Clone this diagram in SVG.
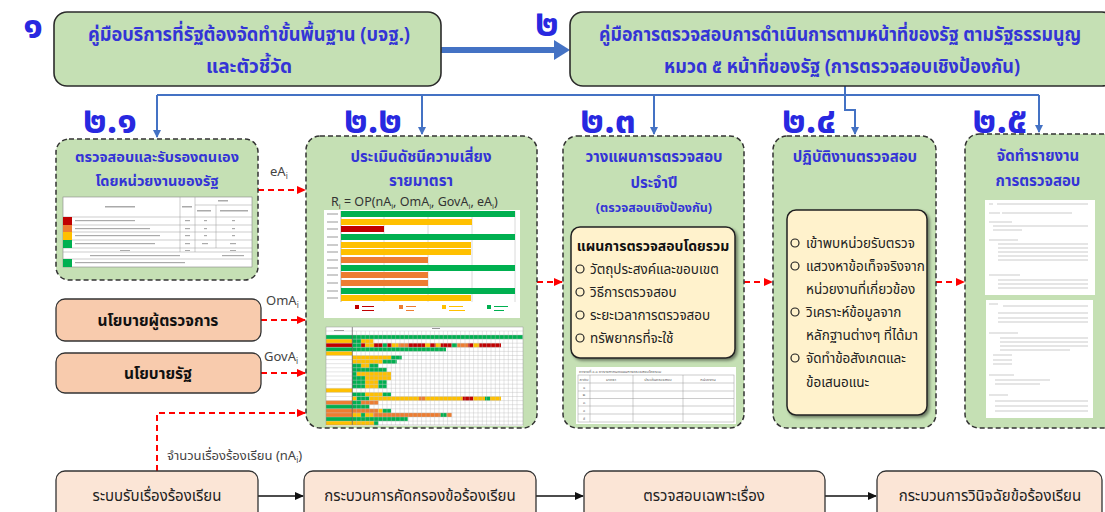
<svg xmlns="http://www.w3.org/2000/svg" width="1105" height="512" viewBox="0 0 1105 512">
<style>
text{font-family:'Noto Sans Thai','Noto Sans Thai UI','Noto Sans','DejaVu Sans',sans-serif;}
.blue{fill:#3434D6;font-weight:bold;text-anchor:middle;}
.num{fill:#2828E0;font-weight:bold;font-size:37px;}
.topbox{fill:#C5E0B4;stroke:#2b2b2b;stroke-width:1.6;}
.sec{fill:#C5E0B4;stroke:#333;stroke-width:1.5;stroke-dasharray:5 3;}
.pol{fill:#F8CBAD;stroke:#333;stroke-width:1.3;}
.bot{fill:#FBE5D6;stroke:#333;stroke-width:1.3;}
.inner{fill:#FFF2CC;stroke:#222;stroke-width:1.5;}
.blk{fill:#222;font-size:15px;}
.itm{fill:#222;font-size:13.5px;}
.lbl{fill:#444;font-size:13px;}
.bl{stroke:#4472C4;stroke-width:2;fill:none;}
.rd{stroke:#FF0000;stroke-width:2;stroke-dasharray:6 4;fill:none;}
.ar{stroke:#111;stroke-width:1.5;fill:none;}
.G{fill:#00B050;}.Y{fill:#FFC000;}.R{fill:#C00000;}.O{fill:#ED7D31;}
.gl{stroke:#bbb;stroke-width:0.4;}
.tl{stroke:#999;stroke-width:0.5;fill:none;}
.dl{stroke:#aaa;stroke-width:0.6;}
.tiny{font-size:4px;fill:#555;}
</style>
<defs>
<marker id="mb" markerWidth="8" markerHeight="8" refX="7" refY="4" orient="auto" markerUnits="userSpaceOnUse"><path d="M0,0 L8,4 L0,8 z" fill="#4472C4"/></marker>
<marker id="mr" markerWidth="9" markerHeight="8" refX="8" refY="4" orient="auto" markerUnits="userSpaceOnUse"><path d="M0,0 L9,4 L0,8 z" fill="#FF0000"/></marker>
<marker id="mk" markerWidth="9" markerHeight="8" refX="8" refY="4" orient="auto" markerUnits="userSpaceOnUse"><path d="M0,0 L9,4 L0,8 z" fill="#111"/></marker>
<filter id="sh" x="-10%" y="-10%" width="130%" height="130%"><feDropShadow dx="2" dy="2" stdDeviation="1.5" flood-color="#000" flood-opacity="0.45"/></filter>
</defs>

<!-- connectors -->
<g id="connectors">
<path d="M441,50 H556" stroke="#4472C4" stroke-width="6" fill="none"/>
<path d="M554,40 L570,50 L554,60 z" fill="#4472C4"/>
<path class="bl" d="M845,86 V95"/>
<path class="bl" d="M157,95 H1039"/>
<path class="bl" d="M157,95 V137" marker-end="url(#mb)"/>
<path class="bl" d="M422,95 V134" marker-end="url(#mb)"/>
<path class="bl" d="M654,95 V134" marker-end="url(#mb)"/>
<path class="bl" d="M845,95 V110 H855 V134" marker-end="url(#mb)"/>
<path class="bl" d="M1039,95 V132" marker-end="url(#mb)"/>
<path class="rd" d="M258,190 H305" marker-end="url(#mr)"/>
<path class="rd" d="M261,320 H305" marker-end="url(#mr)"/>
<path class="rd" d="M261,373 H305" marker-end="url(#mr)"/>
<path class="rd" d="M157,471 V413 H305" marker-end="url(#mr)"/>
<path class="rd" d="M537,282 H562" marker-end="url(#mr)"/>
<path class="rd" d="M744,282 H772" marker-end="url(#mr)"/>
<path class="rd" d="M936,282 H964" marker-end="url(#mr)"/>
<path class="ar" d="M258,496 H303" marker-end="url(#mk)"/>
<path class="ar" d="M536,496 H583" marker-end="url(#mk)"/>
<path class="ar" d="M825,496 H876" marker-end="url(#mk)"/>
<text x="270" y="176" class="lbl">eA<tspan font-size="8" dy="3">i</tspan></text>
<text x="266" y="305" class="lbl">OmA<tspan font-size="8" dy="3">i</tspan></text>
<text x="264" y="361" class="lbl">GovA<tspan font-size="8" dy="3">i</tspan></text>
<text x="167" y="460" class="lbl">จำนวนเรื่องร้องเรียน (nA<tspan font-size="8" dy="3">i</tspan><tspan dy="-3">)</tspan></text>
</g>

<!-- top boxes -->
<g id="n1">
<text x="33" y="38" class="num" text-anchor="middle">๑</text>
<rect x="54" y="12" width="387" height="74" rx="13" class="topbox"/>
<text x="249" y="41" class="blue" font-size="19.5" textLength="322" lengthAdjust="spacingAndGlyphs">คู่มือบริการที่รัฐต้องจัดทำขั้นพื้นฐาน (บจฐ.)</text>
<text x="249" y="73" class="blue" font-size="19.5" textLength="86" lengthAdjust="spacingAndGlyphs">และตัวชี้วัด</text>
</g>
<g id="n2">
<text x="547" y="36" class="num" text-anchor="middle" font-size="32">๒</text>
<rect x="570" y="12" width="545" height="74" rx="13" class="topbox"/>
<text x="840" y="41" class="blue" font-size="18.5" textLength="482" lengthAdjust="spacingAndGlyphs">คู่มือการตรวจสอบการดำเนินการตามหน้าที่ของรัฐ ตามรัฐธรรมนูญ</text>
<text x="842" y="73" class="blue" font-size="19.5" textLength="356" lengthAdjust="spacingAndGlyphs">หมวด ๕ หน้าที่ของรัฐ (การตรวจสอบเชิงป้องกัน)</text>
</g>

<!-- 2.1 -->
<g id="n21">
<text x="110" y="133" class="num" text-anchor="middle" font-size="35">๒.๑</text>
<rect x="56" y="139" width="202" height="141" rx="13" class="sec"/>
<text x="157" y="162" class="blue" font-size="14.5">ตรวจสอบและรับรองตนเอง</text>
<text x="157" y="186" class="blue" font-size="14.5">โดยหน่วยงานของรัฐ</text>
<rect x="63" y="197" width="189" height="70" fill="#fff" stroke="#888" stroke-width="0.6"/>
<g class="tl">
<path d="M63,217 H252 M63,225 H252 M63,232 H252 M63,240 H252 M63,248 H252 M63,252 H252 M63,259 H252 M195,205 H252"/>
<path d="M180,197 V252 M195,197 V252 M216,205 V248"/>
</g>
<rect x="63" y="217" width="9" height="8" class="R"/>
<rect x="63" y="225" width="9" height="7" class="O"/>
<rect x="63" y="232" width="9" height="8" class="Y"/>
<rect x="63" y="240" width="9" height="8" class="G"/>
<rect x="63" y="259" width="9" height="8" class="G"/>
<g fill="#aaa">
<rect x="105" y="206" width="30" height="1.5"/><rect x="182" y="206" width="10" height="1.5"/><rect x="218" y="200" width="10" height="1.5"/>
<rect x="197" y="210" width="14" height="1.5"/><rect x="220" y="210" width="28" height="1.5"/>
<rect x="75" y="220" width="60" height="1.2"/><rect x="75" y="228" width="75" height="1.2"/><rect x="75" y="235" width="85" height="1.2"/><rect x="75" y="243" width="80" height="1.2"/>
<rect x="185" y="220" width="5" height="1.2"/><rect x="185" y="228" width="5" height="1.2"/><rect x="185" y="235" width="5" height="1.2"/><rect x="185" y="243" width="5" height="1.2"/>
<rect x="204" y="220" width="3" height="1.2"/><rect x="204" y="228" width="3" height="1.2"/><rect x="204" y="235" width="3" height="1.2"/><rect x="202" y="243" width="6" height="1.2"/>
<rect x="232" y="220" width="3" height="1.2"/><rect x="232" y="228" width="3" height="1.2"/><rect x="232" y="235" width="3" height="1.2"/><rect x="230" y="243" width="6" height="1.2"/>
<rect x="120" y="250" width="10" height="1"/><rect x="185" y="250" width="5" height="1"/><rect x="230" y="250" width="6" height="1"/>
<rect x="90" y="255" width="90" height="1.2"/><rect x="222" y="255" width="22" height="1.2"/>
<rect x="75" y="262" width="110" height="1.2"/>
</g>
</g>

<!-- 2.2 -->
<g id="n22">
<text x="373" y="133" class="num" text-anchor="middle" font-size="35">๒.๒</text>
<rect x="306" y="136" width="231" height="292" rx="14" class="sec"/>
<text x="421" y="162" class="blue" font-size="15">ประเมินดัชนีความเสี่ยง</text>
<text x="421" y="186" class="blue" font-size="15">รายมาตรา</text>
<text x="331" y="206" fill="#333" font-size="12.5">R<tspan font-size="7.5" dy="3">i</tspan><tspan dy="-3"> = OP(nA</tspan><tspan font-size="7.5" dy="3">i</tspan><tspan dy="-3">, OmA</tspan><tspan font-size="7.5" dy="3">i</tspan><tspan dy="-3">, GovA</tspan><tspan font-size="7.5" dy="3">i</tspan><tspan dy="-3">, eA</tspan><tspan font-size="7.5" dy="3">i</tspan><tspan dy="-3">)</tspan></text>
<rect x="324" y="210" width="196" height="108" fill="#fff"/>
<path d="M384,211 V302 M428,211 V302 M472,211 V302 M515,211 V302" stroke="#d0d0d0" stroke-width="0.8"/>
<path d="M341,211 V302" stroke="#999" stroke-width="0.8"/>
<rect x="341" y="211" width="174" height="6" class="G"/>
<rect x="341" y="219" width="131" height="6" class="Y"/>
<rect x="341" y="226" width="43" height="6" class="R"/>
<rect x="341" y="234" width="174" height="6" class="G"/>
<rect x="341" y="242" width="130" height="6" class="Y"/>
<rect x="341" y="249" width="130" height="6" class="Y"/>
<rect x="341" y="257" width="87" height="6" class="O"/>
<rect x="341" y="265" width="174" height="6" class="G"/>
<rect x="341" y="272" width="87" height="6" class="O"/>
<rect x="341" y="280" width="87" height="6" class="O"/>
<rect x="341" y="288" width="174" height="6" class="G"/>
<rect x="341" y="295" width="130" height="6" class="Y"/>
<g fill="#999"><rect x="327" y="213.5" width="11" height="1"/><rect x="327" y="221.5" width="11" height="1"/><rect x="327" y="228.5" width="11" height="1"/><rect x="327" y="236.5" width="11" height="1"/><rect x="327" y="244.5" width="11" height="1"/><rect x="327" y="251.5" width="11" height="1"/><rect x="327" y="259.5" width="11" height="1"/><rect x="327" y="267.5" width="11" height="1"/><rect x="327" y="274.5" width="11" height="1"/><rect x="327" y="282.5" width="11" height="1"/><rect x="327" y="290.5" width="11" height="1"/><rect x="327" y="297.5" width="11" height="1"/></g>
<rect x="355" y="305" width="4" height="4" class="R"/><rect x="362" y="306" width="12" height="1" fill="#C00000"/><rect x="362" y="310" width="12" height="1" fill="#C00000"/>
<rect x="399" y="305" width="4" height="4" class="O"/><rect x="406" y="306" width="10" height="1" fill="#ED7D31"/><rect x="406" y="310" width="8" height="1" fill="#ED7D31"/>
<rect x="442" y="305" width="4" height="4" class="Y"/><rect x="449" y="306" width="14" height="1" fill="#FFC000"/><rect x="449" y="310" width="16" height="1" fill="#FFC000"/>
<rect x="487" y="305" width="4" height="4" class="G"/><rect x="494" y="306" width="14" height="1" fill="#00B050"/><rect x="494" y="310" width="10" height="1" fill="#00B050"/>
<!-- gantt -->
<rect x="326" y="327" width="197" height="99" fill="#fff"/>
<g>
<rect x="326" y="335" width="26.3" height="4.1" class="G"/>
<rect x="326" y="339.1" width="26.3" height="4.1" class="Y"/>
<rect x="326" y="343.2" width="26.3" height="4.1" class="R"/>
<rect x="326" y="347.3" width="26.3" height="4.1" class="G"/>
<rect x="326" y="351.4" width="26.3" height="4.1" class="Y"/>
<rect x="326" y="388.3" width="26.3" height="4.1" class="Y"/>
<rect x="326" y="400.6" width="26.3" height="4.1" class="O"/>
<rect x="326" y="404.7" width="26.3" height="4.1" class="G"/>
<rect x="326" y="408.8" width="26.3" height="4.1" class="O"/>
<rect x="326" y="412.9" width="26.3" height="4.1" class="O"/>
<rect x="326" y="417" width="26.3" height="4.1" class="G"/>
<rect x="326" y="421.1" width="26.3" height="4.1" class="Y"/>
</g>
<g>
<rect x="352.3" y="335" width="170.4" height="4.1" class="G"/>
<rect x="352.3" y="339.1" width="8.7" height="4.1" class="G"/><rect x="361" y="339.1" width="12.3" height="4.1" class="Y"/>
<rect x="352.3" y="343.2" width="8.7" height="4.1" class="G"/><rect x="361" y="343.2" width="4" height="4.1" class="R"/><rect x="365" y="343.2" width="9" height="4.1" class="Y"/><rect x="374" y="343.2" width="8.7" height="4.1" class="R"/><rect x="382.7" y="343.2" width="4.6" height="4.1" class="G"/><rect x="387.3" y="343.2" width="4.4" height="4.1" class="R"/><rect x="391.7" y="343.2" width="6.6" height="4.1" class="Y"/><rect x="398.3" y="343.2" width="10" height="4.1" class="O"/><rect x="408.3" y="343.2" width="16.7" height="4.1" class="R"/><rect x="425" y="343.2" width="5" height="4.1" class="Y"/><rect x="430" y="343.2" width="5.7" height="4.1" class="R"/><rect x="435.7" y="343.2" width="5" height="4.1" class="Y"/><rect x="440.7" y="343.2" width="11" height="4.1" class="R"/><rect x="451.7" y="343.2" width="5.6" height="4.1" class="G"/><rect x="457.3" y="343.2" width="11" height="4.1" class="O"/><rect x="468.3" y="343.2" width="5" height="4.1" class="R"/><rect x="473.3" y="343.2" width="6" height="4.1" class="Y"/><rect x="479.3" y="343.2" width="21.7" height="4.1" class="R"/>
<rect x="352.3" y="347.3" width="93.7" height="4.1" class="G"/>
<rect x="352.3" y="355.5" width="38.7" height="4.1" class="Y"/><rect x="391" y="355.5" width="10.7" height="4.1" class="G"/>
<rect x="352.3" y="359.6" width="30.4" height="4.1" class="Y"/><rect x="382.7" y="359.6" width="14" height="4.1" class="G"/>
<rect x="352.3" y="363.7" width="8.7" height="4.1" class="G"/><rect x="361" y="363.7" width="8.3" height="4.1" class="Y"/><rect x="369.3" y="363.7" width="9" height="4.1" class="G"/>
<rect x="352.3" y="367.8" width="34.4" height="4.1" class="G"/>
<rect x="352.3" y="371.9" width="4.4" height="4.1" class="G"/><rect x="356.7" y="371.9" width="34.3" height="4.1" class="Y"/>
<rect x="352.3" y="376" width="12.7" height="4.1" class="G"/><rect x="365" y="376" width="26" height="4.1" class="Y"/>
<rect x="352.3" y="380.1" width="12.7" height="4.1" class="G"/><rect x="365" y="380.1" width="13.3" height="4.1" class="Y"/><rect x="378.3" y="380.1" width="8.4" height="4.1" class="G"/>
<rect x="352.3" y="384.2" width="12.7" height="4.1" class="G"/><rect x="365" y="384.2" width="13.3" height="4.1" class="Y"/><rect x="378.3" y="384.2" width="8.4" height="4.1" class="G"/>
<rect x="352.3" y="392.4" width="12.7" height="4.1" class="G"/><rect x="365" y="392.4" width="17.7" height="4.1" class="Y"/><rect x="382.7" y="392.4" width="8.3" height="4.1" class="G"/>
<rect x="352.3" y="396.5" width="4.4" height="4.1" class="Y"/><rect x="356.7" y="396.5" width="12.6" height="4.1" class="G"/><rect x="369.3" y="396.5" width="49.7" height="4.1" class="Y"/><rect x="419" y="396.5" width="6" height="4.1" class="O"/><rect x="425" y="396.5" width="37.7" height="4.1" class="Y"/><rect x="462.7" y="396.5" width="10.6" height="4.1" class="R"/><rect x="473.3" y="396.5" width="11.7" height="4.1" class="Y"/><rect x="485" y="396.5" width="5" height="4.1" class="G"/><rect x="490" y="396.5" width="11" height="4.1" class="Y"/>
<rect x="352.3" y="400.6" width="8.7" height="4.1" class="G"/><rect x="361" y="400.6" width="17.3" height="4.1" class="O"/>
<rect x="352.3" y="404.7" width="17" height="4.1" class="G"/>
<rect x="352.3" y="408.8" width="26" height="4.1" class="O"/><rect x="378.3" y="408.8" width="4.4" height="4.1" class="Y"/><rect x="382.7" y="408.8" width="8.3" height="4.1" class="G"/>
<rect x="352.3" y="412.9" width="8.7" height="4.1" class="Y"/><rect x="361" y="412.9" width="4" height="4.1" class="G"/><rect x="365" y="412.9" width="8.3" height="4.1" class="Y"/><rect x="373.3" y="412.9" width="67.4" height="4.1" class="O"/><rect x="440.7" y="412.9" width="6" height="4.1" class="G"/><rect x="446.7" y="412.9" width="5" height="4.1" class="O"/>
<rect x="352.3" y="417" width="55.4" height="4.1" class="G"/>
<rect x="352.3" y="421.1" width="21.7" height="4.1" class="Y"/><rect x="374" y="421.1" width="4.3" height="4.1" class="G"/>
</g>
<g class="gl">
<path d="M326,331 H523 M326,335 H523 M326,339.1 H523 M326,343.2 H523 M326,347.3 H523 M326,351.4 H523 M326,355.5 H523 M326,359.6 H523 M326,363.7 H523 M326,367.8 H523 M326,371.9 H523 M326,376 H523 M326,380.1 H523 M326,384.2 H523 M326,388.3 H523 M326,392.4 H523 M326,396.5 H523 M326,400.6 H523 M326,404.7 H523 M326,408.8 H523 M326,412.9 H523 M326,417 H523 M326,421.1 H523"/>
<path d="M356.6,331 V425 M361,331 V425 M365.3,331 V425 M369.6,331 V425 M374,331 V425 M378.3,331 V425 M382.6,331 V425 M387,331 V425 M391.3,331 V425 M395.6,331 V425 M400,331 V425 M404.3,331 V425 M408.6,331 V425 M413,331 V425 M417.3,331 V425 M421.6,331 V425 M426,331 V425 M430.3,331 V425 M434.6,331 V425 M439,331 V425 M443.3,331 V425 M447.6,331 V425 M452,331 V425 M456.3,331 V425 M460.6,331 V425 M465,331 V425 M469.3,331 V425 M473.6,331 V425 M478,331 V425 M482.3,331 V425 M486.6,331 V425 M491,331 V425 M495.3,331 V425 M499.6,331 V425 M504,331 V425 M508.3,331 V425 M512.6,331 V425 M517,331 V425"/>
</g>
<path d="M352.3,327 V425" stroke="#555" stroke-width="0.7"/>
<rect x="326" y="327" width="197" height="98" fill="none" stroke="#999" stroke-width="0.5"/>
<rect x="432" y="328" width="8" height="1" fill="#999"/><rect x="334" y="330" width="10" height="1" fill="#999"/>
</g>

<!-- 2.3 -->
<g id="n23">
<text x="608" y="133" class="num" text-anchor="middle" font-size="35">๒.๓</text>
<rect x="563" y="136" width="181" height="292" rx="14" class="sec"/>
<text x="654" y="162" class="blue" font-size="15">วางแผนการตรวจสอบ</text>
<text x="654" y="188" class="blue" font-size="15">ประจำปี</text>
<text x="654" y="212" class="blue" font-size="12.5">(ตรวจสอบเชิงป้องกัน)</text>
<rect x="571" y="227" width="164" height="131" rx="9" class="inner" filter="url(#sh)"/>
<text x="653" y="251" fill="#111" font-size="14" font-weight="bold" text-anchor="middle">แผนการตรวจสอบโดยรวม</text>
<g fill="none" stroke="#222" stroke-width="1.2"><circle cx="580" cy="269" r="4"/><circle cx="580" cy="292" r="4"/><circle cx="580" cy="315" r="4"/><circle cx="580" cy="338" r="4"/></g>
<text x="590" y="274" class="itm">วัตถุประสงค์และขอบเขต</text>
<text x="590" y="297" class="itm">วิธีการตรวจสอบ</text>
<text x="590" y="320" class="itm">ระยะเวลาการตรวจสอบ</text>
<text x="590" y="343" class="itm">ทรัพยากรที่จะใช้</text>
<rect x="576" y="367" width="160" height="57" fill="#fff"/>
<text x="579" y="373" class="tiny">ตารางที่ ๔.๑ ตารางกำหนดแผนการตรวจสอบโดยรวม</text>
<g class="tl">
<rect x="578" y="375" width="156" height="47"/>
<path d="M578,383 H734 M578,391 H734 M578,398.5 H734 M578,406 H734 M578,414 H734 M590,375 V422 M633,375 V422 M683,375 V422"/>
</g>
<text x="584" y="380.5" class="tiny" text-anchor="middle">ลำดับ</text>
<text x="611" y="380.5" class="tiny" text-anchor="middle">มาตรา</text>
<text x="658" y="380.5" class="tiny" text-anchor="middle">ประเด็นตรวจสอบ</text>
<text x="708" y="380.5" class="tiny" text-anchor="middle">หน่วยงาน</text>
<text x="584" y="388.5" class="tiny" text-anchor="middle">๑</text>
<text x="584" y="396" class="tiny" text-anchor="middle">๒</text>
<text x="584" y="403.5" class="tiny" text-anchor="middle">๓</text>
<text x="584" y="411.5" class="tiny" text-anchor="middle">๔</text>
<text x="584" y="419.5" class="tiny" text-anchor="middle">๕</text>
</g>

<!-- 2.4 -->
<g id="n24">
<text x="809" y="133" class="num" text-anchor="middle" font-size="35">๒.๔</text>
<rect x="773" y="136" width="163" height="292" rx="14" class="sec"/>
<text x="855" y="162" class="blue" font-size="15">ปฏิบัติงานตรวจสอบ</text>
<rect x="787" y="210" width="140" height="205" rx="9" class="inner" filter="url(#sh)"/>
<g fill="none" stroke="#222" stroke-width="1.2"><circle cx="795" cy="243" r="4"/><circle cx="795" cy="266" r="4"/><circle cx="795" cy="312" r="4"/><circle cx="795" cy="358" r="4"/></g>
<text x="806" y="248" class="itm">เข้าพบหน่วยรับตรวจ</text>
<text x="806" y="271" class="itm">แสวงหาข้อเท็จจริงจาก</text>
<text x="806" y="294" class="itm">หน่วยงานที่เกี่ยวข้อง</text>
<text x="806" y="317" class="itm">วิเคราะห์ข้อมูลจาก</text>
<text x="806" y="340" class="itm">หลักฐานต่างๆ ที่ได้มา</text>
<text x="806" y="363" class="itm">จัดทำข้อสังเกตและ</text>
<text x="806" y="387" class="itm">ข้อเสนอแนะ</text>
</g>

<!-- 2.5 -->
<g id="n25">
<text x="1000" y="133" class="num" text-anchor="middle" font-size="35">๒.๕</text>
<rect x="965" y="134" width="160" height="294" rx="14" class="sec"/>
<text x="1038" y="161" class="blue" font-size="15">จัดทำรายงาน</text>
<text x="1038" y="186" class="blue" font-size="15">การตรวจสอบ</text>
<rect x="985" y="200" width="110" height="95" fill="#fff"/>
<rect x="986" y="300" width="107" height="118" fill="#fff"/>
<g class="dl">
<path d="M989,204 H993 M997,204 H1088 M989,213 H1000 M1002,213 H1072 M989,222 H1012 M993,226 H1088 M993,230 H1022 M989,240 H1018 M998,244 H1088 M998,248 H1088 M998,252 H1088 M998,256 H1088 M998,260 H1088 M989,275 H1020 M998,280 H1088 M998,284 H1088 M998,288 H1088"/>
<path d="M989,304 H998 M1003,306 H1088 M998,313 H1088 M998,318 H1088 M998,322 H1088 M989,333 H1018 M1000,338 H1088 M1000,342 H1088 M1000,346 H1088 M1000,350 H1070 M993,355 H1012 M993,360 H1012 M993,364 H1012 M989,375 H1014 M995,380 H1050 M995,384 H1040 M989,395 H1008 M995,401 H1088 M995,406 H1088 M995,411 H1088"/>
</g>
</g>

<!-- policy boxes -->
<g id="p1">
<rect x="56" y="299" width="205" height="42" rx="9" class="pol"/>
<text x="158" y="326" fill="#111" font-size="15.5" font-weight="bold" text-anchor="middle">นโยบายผู้ตรวจการ</text>
</g>
<g id="p2">
<rect x="56" y="353" width="205" height="40" rx="9" class="pol"/>
<text x="158" y="379" fill="#111" font-size="15.5" font-weight="bold" text-anchor="middle">นโยบายรัฐ</text>
</g>

<!-- bottom row -->
<g id="b1"><rect x="56" y="471" width="202" height="52" rx="9" class="bot"/><text x="157" y="501" class="blk" text-anchor="middle">ระบบรับเรื่องร้องเรียน</text></g>
<g id="b2"><rect x="304" y="471" width="232" height="52" rx="9" class="bot"/><text x="420" y="501" class="blk" text-anchor="middle">กระบวนการคัดกรองข้อร้องเรียน</text></g>
<g id="b3"><rect x="584" y="471" width="241" height="52" rx="9" class="bot"/><text x="704" y="501" class="blk" text-anchor="middle">ตรวจสอบเฉพาะเรื่อง</text></g>
<g id="b4"><rect x="877" y="471" width="225" height="52" rx="9" class="bot"/><text x="990" y="501" class="blk" text-anchor="middle">กระบวนการวินิจฉัยข้อร้องเรียน</text></g>
</svg>
